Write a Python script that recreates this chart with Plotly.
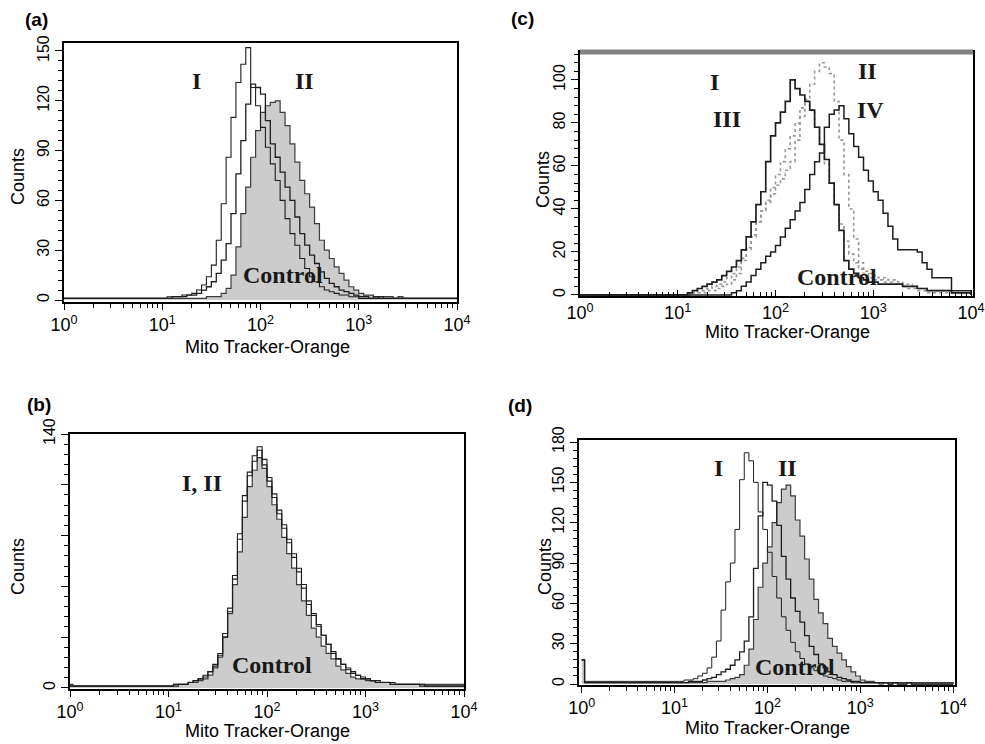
import plotly.graph_objects as go

# ---------------- data ----------------
# bin positions in decades (log10 of Mito Tracker-Orange fluorescence)
LOG_BINS = [0.0, 0.03, 0.5,
            1.0, 1.05, 1.1, 1.15, 1.2, 1.25, 1.3, 1.35, 1.4, 1.45,
            1.5, 1.55, 1.6, 1.65, 1.7, 1.75, 1.8, 1.85, 1.9, 1.95,
            2.0, 2.05, 2.1, 2.15, 2.2, 2.25, 2.3, 2.35, 2.4, 2.45,
            2.5, 2.55, 2.6, 2.65, 2.7, 2.75, 2.8, 2.85, 2.9, 2.95,
            3.0, 3.05, 3.1, 3.15, 3.2, 3.25, 3.3, 3.35, 3.4, 3.45, 3.5, 3.55, 3.6,
            3.8, 4.0]

# panel (a)
A_I = [1, 1, 1,
       1, 2, 2, 2, 3, 3, 4, 6, 9, 14,
       21, 36, 58, 86, 110, 131, 142, 152, 128, 117,
       104, 92, 82, 72, 60, 49, 40, 33, 25, 19,
       14, 11, 8, 6, 5, 4, 3, 3, 2, 2,
       1, 1, 1, 1, 2, 1, 1, 1, 1, 1, 1, 1, 1,
       1, 1]
A_II = [1, 1, 1,
        1, 1, 2, 2, 2, 3, 3, 4, 6, 8,
        11, 16, 24, 34, 52, 76, 96, 118, 130, 128,
        124, 108, 94, 86, 77, 68, 60, 50, 40, 33,
        27, 22, 17, 13, 10, 8, 6, 5, 4, 3,
        2, 2, 1, 2, 1, 1, 1, 1, 1, 1, 1, 1, 1,
        1, 1]
A_CONTROL = [1, 1, 1,
             1, 1, 1, 1, 1, 1, 1, 1, 1, 2,
             2, 2, 4, 7, 15, 32, 52, 68, 86, 102,
             113, 117, 119, 120, 113, 105, 94, 83, 72, 64,
             56, 46, 36, 30, 25, 20, 16, 12, 8, 6,
             4, 3, 3, 2, 2, 2, 2, 1, 2, 1, 1, 1, 1,
             1, 1]

# panel (b)
B_I = [1, 1, 1,
       1, 2, 2, 2, 3, 4, 5, 7, 9, 12,
       18, 28, 42, 60, 85, 106, 117, 125, 131, 123,
       114, 105, 96, 88, 80, 72, 64, 55, 46, 40,
       34, 29, 24, 19, 16, 13, 10, 8, 7, 5,
       5, 4, 3, 3, 3, 2, 2, 2, 2, 2, 2, 2, 1,
       1, 1]
B_II = [1, 1, 1,
        1, 1, 2, 2, 3, 4, 5, 6, 9, 13,
        19, 30, 44, 62, 82, 103, 119, 128, 133, 126,
        116, 107, 98, 90, 82, 74, 66, 57, 48, 41,
        35, 29, 24, 20, 16, 13, 11, 9, 7, 6,
        5, 4, 4, 3, 3, 3, 2, 2, 2, 2, 2, 1, 1,
        1, 1]
B_CONTROL = [2, 1, 1,
             1, 2, 2, 2, 3, 3, 4, 5, 7, 11,
             17, 28, 41, 57, 75, 94, 111, 120, 127, 121,
             111, 101, 93, 83, 74, 66, 57, 48, 40, 33,
             28, 23, 19, 16, 12, 10, 8, 6, 5, 5,
             4, 4, 3, 3, 3, 2, 2, 2, 2, 2, 2, 2, 2,
             2, 1]

# panel (c)
C_I = [0, 0, 0,
       0, 0, 1, 2, 3, 4, 5, 6, 7, 9,
       11, 13, 16, 21, 27, 34, 42, 48, 62, 74,
       80, 85, 90, 100, 96, 93, 90, 86, 78, 70,
       63, 52, 42, 30, 16, 12, 10, 8, 7, 6,
       6, 5, 5, 5, 5, 5, 4, 4, 4, 3, 3, 2, 2,
       1, 0]
C_III = [0, 0, 0,
         0, 0, 1, 1, 2, 2, 3, 4, 5, 6,
         8, 10, 13, 17, 21, 27, 34, 39, 44, 50,
         56, 62, 68, 74, 80, 87, 90, 86, 78, 70,
         61, 52, 42, 33, 25, 19, 15, 12, 10, 8,
         7, 7, 6, 6, 5, 5, 4, 3, 3, 2, 2, 1, 1,
         1, 0]
C_II = [0, 0, 0,
        0, 0, 0, 1, 1, 1, 2, 2, 3, 4,
        5, 7, 10, 16, 22, 28, 34, 39, 43, 47,
        51, 54, 58, 62, 72, 83, 91, 98, 104, 108,
        106, 103, 90, 72, 56, 40, 26, 15, 11, 10,
        9, 8, 8, 7, 7, 6, 5, 5, 4, 3, 3, 2, 2,
        1, 0]
C_IV = [0, 0, 0,
        0, 0, 0, 0, 0, 0, 0, 0, 0, 0,
        0, 1, 2, 4, 6, 9, 12, 15, 18, 20,
        23, 27, 31, 35, 39, 43, 49, 56, 62, 66,
        78, 84, 86, 88, 82, 75, 69, 64, 58, 53,
        48, 44, 38, 32, 26, 21, 21, 21, 21, 20, 15, 12, 8,
        2, 0]

# panel (d)
D_I = [18, 2, 2,
       2, 2, 3, 3, 4, 6, 8, 12, 20, 32,
       55, 76, 90, 115, 152, 172, 166, 150, 128, 115,
       98, 80, 64, 50, 40, 31, 24, 19, 15, 12,
       10, 8, 6, 5, 4, 3, 2, 2, 1, 1,
       1, 1, 1, 1, 0, 1, 0, 1, 0, 0, 1, 0, 0,
       0, 0]
D_II = [18, 1, 1,
        1, 1, 1, 2, 2, 2, 3, 4, 5, 7,
        9, 11, 14, 18, 24, 32, 50, 86, 125, 150,
        148, 136, 118, 95, 78, 64, 54, 46, 36, 28,
        22, 15, 12, 9, 7, 5, 4, 3, 2, 2,
        1, 1, 1, 1, 1, 1, 0, 1, 0, 0, 1, 0, 0,
        0, 0]
D_CONTROL = [18, 1, 1,
             1, 1, 1, 1, 1, 1, 1, 2, 2, 2,
             2, 3, 4, 5, 7, 14, 26, 48, 72, 90,
             102, 120, 135, 145, 148, 140, 122, 110, 93, 78,
             63, 53, 45, 34, 28, 23, 18, 13, 9, 6,
             3, 2, 2, 1, 1, 1, 1, 1, 1, 1, 1, 1, 1,
             1, 0]

X_TICK_VALS = [1, 10, 100, 1000, 10000]
X_TICK_TEXT = ["10<sup>0</sup>", "10<sup>1</sup>", "10<sup>2</sup>",
               "10<sup>3</sup>", "10<sup>4</sup>"]

for name, arr in [("A_I", A_I), ("A_II", A_II), ("A_CONTROL", A_CONTROL),
                  ("B_I", B_I), ("B_II", B_II), ("B_CONTROL", B_CONTROL),
                  ("C_I", C_I), ("C_III", C_III), ("C_II", C_II), ("C_IV", C_IV),
                  ("D_I", D_I), ("D_II", D_II), ("D_CONTROL", D_CONTROL)]:
    if len(arr) != len(LOG_BINS):
        raise ValueError(f"{name} has {len(arr)} values, expected {len(LOG_BINS)}")

# ---------------- figure ----------------
W, H = 985, 744
X = [10 ** v for v in LOG_BINS]

SANS = "Liberation Sans, Arial, sans-serif"
SERIF = "Liberation Serif, Times New Roman, serif"
FILL = "rgb(204,204,204)"
DARK = "rgb(30,30,30)"

fig = go.Figure()


def add_fill(y, ax):
    fig.add_trace(go.Scatter(x=X, y=y, mode="lines", line_shape="hv",
                             fill="tozeroy", fillcolor=FILL,
                             line=dict(color="rgb(60,60,60)", width=1.2),
                             xaxis="x" + ax, yaxis="y" + ax, hoverinfo="skip",
                             showlegend=False))


def add_line(y, ax, color=DARK, width=1.3, dash="solid"):
    fig.add_trace(go.Scatter(x=X, y=y, mode="lines", line_shape="hv",
                             line=dict(color=color, width=width, dash=dash),
                             xaxis="x" + ax, yaxis="y" + ax, hoverinfo="skip",
                             showlegend=False))


# (a) -> axis "", (c) -> "2", (b) -> "3", (d) -> "4"
add_fill(A_CONTROL, "")
add_line(A_II, "")
add_line(A_I, "", width=1.1)

add_line(C_III, "2", color="rgb(150,150,150)", width=1.6, dash="dot")
add_line(C_II, "2", color="rgb(150,150,150)", width=1.6, dash="dot")
add_line(C_IV, "2", width=1.5)
add_line(C_I, "2", width=1.7)

add_fill(B_CONTROL, "3")
add_line(B_II, "3", width=1.1)
add_line(B_I, "3", width=1.1)

add_fill(D_CONTROL, "4")
add_line(D_II, "4", width=1.3)
add_line(D_I, "4", width=1.0)

minor_x = [m * 10 ** k for k in range(4) for m in range(2, 10)]

panels = {
    # key: (x px left,right), (y px top,bottom), x range (log), y range, y ticks, y minor dtick
    "": dict(xp=(64, 457), yp=(43, 302), xr=[0, 4.0], yr=[-1.2, 154.8],
             yt=[0, 30, 60, 90, 120, 150], ytt=None, ym=6, xt="outside"),
    "2": dict(xp=(580, 973), yp=(52, 296), xr=[0, 4.02], yr=[-0.5, 113],
              yt=[0, 20, 40, 60, 80, 100], ytt=None, ym=4, xt="inside"),
    "3": dict(xp=(70, 464), yp=(434, 689), xr=[0, 4.0], yr=[-0.6, 140],
              yt=[0, 28, 56, 84, 112, 140], ytt=["0", "", "", "", "", "140"], ym=5.6,
              xt="outside"),
    "4": dict(xp=(579, 955), yp=(440, 685), xr=[-0.03, 4.02], yr=[-0.7, 181.5],
              yt=[0, 30, 60, 90, 120, 150, 180], ytt=None, ym=6, xt="outside"),
}

for ax, p in panels.items():
    xd = [p["xp"][0] / W, p["xp"][1] / W]
    yd = [1 - p["yp"][1] / H, 1 - p["yp"][0] / H]
    fig.layout["xaxis" + ax] = dict(
        type="log", domain=xd, range=p["xr"], anchor="y" + ax, automargin=False,
        showline=True, linecolor="black", linewidth=1.6, mirror=True,
        ticks=p["xt"], ticklen=6, tickwidth=1.3, tickcolor="black",
        tickvals=X_TICK_VALS, ticktext=X_TICK_TEXT,
        tickfont=dict(family=SANS, size=18, color="black"),
        showgrid=False, zeroline=False, fixedrange=True,
        minor=dict(tickvals=minor_x, ticks=p["xt"], ticklen=4,
                   tickwidth=1, tickcolor="black", showgrid=False),
    )
    yaxis = dict(
        domain=yd, range=p["yr"], anchor="x" + ax, automargin=False,
        showline=True, linecolor="black", linewidth=1.6, mirror=True,
        ticks="outside", ticklen=7, tickwidth=1.3, tickcolor="black",
        tickvals=p["yt"], tickangle=-90,
        tickfont=dict(family=SANS, size=16, color="black"),
        showgrid=False, zeroline=False, fixedrange=True,
        minor=dict(tick0=0, dtick=p["ym"], ticks="outside", ticklen=4,
                   tickwidth=1, tickcolor="black", showgrid=False),
    )
    if p["ytt"] is not None:
        yaxis["ticktext"] = p["ytt"]
    fig.layout["yaxis" + ax] = yaxis

annotations = []


def paper_text(text, px, py, size, family=SANS, angle=0, bold=False):
    annotations.append(dict(
        text=("<b>%s</b>" % text) if bold else text,
        xref="paper", yref="paper", x=px / W, y=1 - py / H,
        xanchor="center", yanchor="middle", showarrow=False, textangle=angle,
        font=dict(family=family, size=size, color="black")))


def data_text(text, ax, logx, yv, size=24):
    annotations.append(dict(
        text="<b>%s</b>" % text, xref="x" + ax, yref="y" + ax, x=logx, y=yv,
        xanchor="center", yanchor="middle", showarrow=False,
        font=dict(family=SERIF, size=size, color="rgb(25,25,25)")))


# panel letters
paper_text("(a)", 36, 20, 19, bold=True)
paper_text("(c)", 522, 19, 19, bold=True)
paper_text("(b)", 39, 405, 19, bold=True)
paper_text("(d)", 520, 406, 19, bold=True)

# axis titles
for cx, cy in [(18, 177), (543, 180), (18, 567), (545, 567)]:
    paper_text("Counts", cx, cy, 18, angle=-90)
for cx, cy in [(267, 347), (787, 332), (267, 731), (767, 728)]:
    paper_text("Mito Tracker-Orange", cx, cy, 18)

# curve labels
data_text("I", "", 1.35, 132)
data_text("II", "", 2.45, 132)
data_text("Control", "", 2.23, 15)

data_text("I", "2", 1.38, 99)
data_text("III", "2", 1.50, 82)
data_text("II", "2", 2.94, 104)
data_text("IV", "2", 2.97, 86)
data_text("Control", "2", 2.63, 8.5)

data_text("I, II", "3", 1.34, 113)
data_text("Control", "3", 2.05, 12.7)

data_text("I", "4", 1.47, 161)
data_text("II", "4", 2.22, 161)
data_text("Control", "4", 2.30, 12.6)

fig.update_layout(
    width=W, height=H,
    margin=dict(l=0, r=0, t=0, b=0, autoexpand=False),
    paper_bgcolor="white", plot_bgcolor="white",
    annotations=annotations,
    shapes=[dict(type="line", xref="x2 domain", yref="y2 domain",
                 x0=0, x1=1, y0=1, y1=1,
                 line=dict(color="rgb(130,130,130)", width=5))],
    showlegend=False,
)

fig.write_html("out.html",
               config={"displayModeBar": False},
               post_script="document.body.style.margin='0px';"
                           "document.body.style.overflow='hidden';")
